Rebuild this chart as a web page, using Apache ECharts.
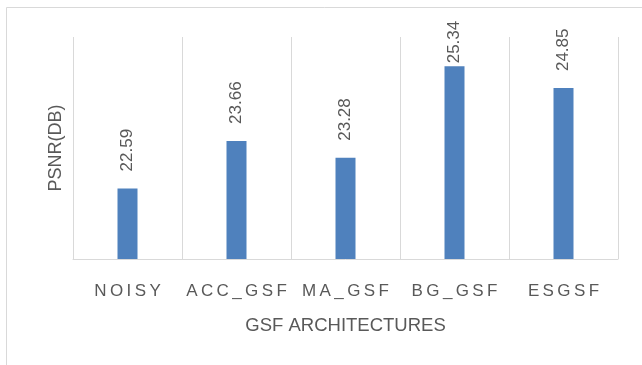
<!DOCTYPE html>
<html>
<head>
<meta charset="utf-8">
<script src="https://cdn.jsdelivr.net/npm/echarts@6/dist/echarts.min.js"></script>
<style>
  html, body { margin: 0; padding: 0; background: #fff; }
  #chart { width: 642px; height: 365px; }
</style>
</head>
<body>
<div id="chart"></div>
<script>
// architectures and their PSNR values
const categories = ['NOISY', 'ACC_GSF', 'MA_GSF', 'BG_GSF', 'ESGSF']
const psnrValues = [22.59, 23.66, 23.28, 25.34, 24.85]

const textFont = 'Liberation Sans'
const gray = '#595959'

// the tallest bar's label sits closer to the bar so it fits in the frame
const barData = psnrValues.map((v, i) => {
  if (i === 3) return { value: v, label: { distance: 3 } }
  return v
})

const chart = echarts.init(document.getElementById('chart'), null, { renderer: 'canvas' })
chart.setOption({
  animation: false,
  backgroundColor: '#fff',
  graphic: [
    {
      // outer frame of the chart area (cropped at right/bottom)
      type: 'rect',
      shape: { x: 6.5, y: 7.5, width: 700, height: 400 },
      style: { fill: 'none', stroke: '#d9d9d9', lineWidth: 1 },
      silent: true
    }
  ],
  grid: {
    left: 73,
    right: 24,
    top: 37,
    bottom: 106
  },
  xAxis: {
    type: 'category',
    data: categories,
    name: 'GSF ARCHITECTURES',
    nameLocation: 'middle',
    nameGap: 57,
    nameTextStyle: {
      color: gray,
      fontFamily: textFont,
      fontSize: 18.5
    },
    axisLine: { show: true, lineStyle: { color: '#d9d9d9', width: 1 } },
    axisTick: { show: false },
    axisLabel: {
      interval: 0,
      color: gray,
      fontFamily: textFont,
      fontSize: 17,
      margin: 24,
      // spaced-out lettering like the original
      formatter: (v) => v.split('').join('\u2009')
    },
    splitLine: { show: true, interval: 0, lineStyle: { color: '#d9d9d9', width: 1 } }
  },
  yAxis: {
    type: 'value',
    min: 21,
    max: 26,
    interval: 1,
    name: 'PSNR(DB)',
    nameLocation: 'middle',
    nameGap: 8,
    nameTextStyle: {
      color: gray,
      fontFamily: textFont,
      fontSize: 18
    },
    axisLine: { show: false },
    axisTick: { show: false },
    axisLabel: { show: false },
    splitLine: { show: false }
  },
  series: [
    {
      type: 'bar',
      data: barData,
      barWidth: 20,
      itemStyle: { color: '#4f81bd' },
      label: {
        show: true,
        position: 'top',
        rotate: 90,
        align: 'left',
        verticalAlign: 'middle',
        distance: 17,
        color: gray,
        fontFamily: textFont,
        fontSize: 17,
        formatter: (p) => p.value.toFixed(2)
      }
    }
  ]
})
</script>
</body>
</html>
